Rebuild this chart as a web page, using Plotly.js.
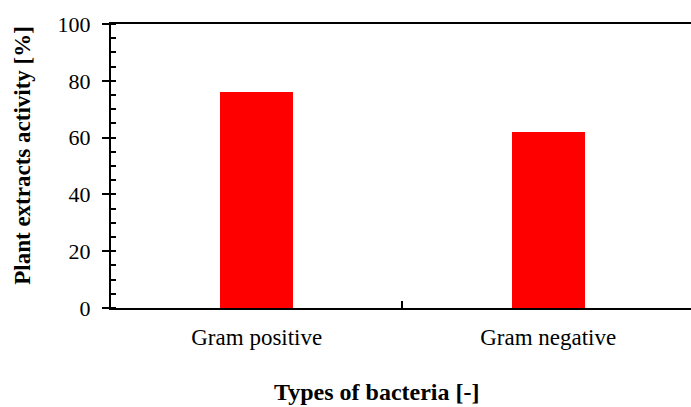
<!DOCTYPE html>
<html>
<head>
<meta charset="utf-8">
<script src="https://cdn.plot.ly/plotly-3.0.1.min.js"></script>
<style>
html, body { margin: 0; padding: 0; background: #ffffff; overflow: hidden; }
#chart { width: 691px; height: 407px; }
</style>
</head>
<body>
<div id="chart"></div>
<script>
// Data
var categories = ["Gram positive", "Gram negative"];
var activity = [76, 62];
var yTickVals = [0, 20, 40, 60, 80, 100];
var xTitle = "Types of bacteria [-]";
var yTitle = "Plant extracts activity [%]";

var font = "Liberation Serif, Times New Roman, serif";

var trace = {
  type: "bar",
  x: categories,
  y: activity,
  width: 0.25,
  marker: { color: "#ff0000", line: { width: 0 } },
  hoverinfo: "x+y"
};

var layout = {
  width: 691,
  height: 407,
  margin: { l: 111, r: 0, t: 24, b: 99, pad: 0 },
  paper_bgcolor: "#ffffff",
  plot_bgcolor: "#ffffff",
  font: { family: font, size: 22, color: "#000000" },
  showlegend: false,
  bargap: 0,
  xaxis: {
    type: "category",
    range: [-0.5, 1.49],
    showgrid: false,
    zeroline: false,
    showline: true,
    linecolor: "#000000",
    linewidth: 2,
    mirror: true,
    ticks: "inside",
    tickson: "boundaries",
    ticklen: 7,
    tickwidth: 2,
    tickcolor: "#000000",
    tickfont: { family: font, size: 23, color: "#000000" },
    ticklabelstandoff: 7,
    automargin: false,
    fixedrange: true
  },
  yaxis: {
    range: [0, 100],
    tickvals: yTickVals,
    showgrid: false,
    zeroline: false,
    showline: true,
    linecolor: "#000000",
    linewidth: 2,
    ticks: "outside",
    ticklen: 7,
    tickwidth: 2,
    tickcolor: "#000000",
    tickfont: { family: font, size: 22, color: "#000000" },
    ticklabelstandoff: 7,
    minor: {
      dtick: 5,
      ticks: "inside",
      ticklen: 5,
      tickwidth: 2,
      tickcolor: "#000000",
      showgrid: false
    },
    automargin: false,
    fixedrange: true
  },
  annotations: [
    {
      text: "<b>" + xTitle + "</b>",
      xref: "paper", yref: "paper",
      x: 0.458, y: -0.296,
      xanchor: "center", yanchor: "middle",
      showarrow: false,
      font: { family: font, size: 24, color: "#000000" }
    },
    {
      text: "<b>" + yTitle + "</b>",
      xref: "paper", yref: "paper",
      x: -0.152, y: 0.539,
      xanchor: "center", yanchor: "middle",
      textangle: -90,
      showarrow: false,
      font: { family: font, size: 23, color: "#000000" }
    }
  ]
};

Plotly.newPlot("chart", [trace], layout, { displayModeBar: false, staticPlot: true });
</script>
</body>
</html>
